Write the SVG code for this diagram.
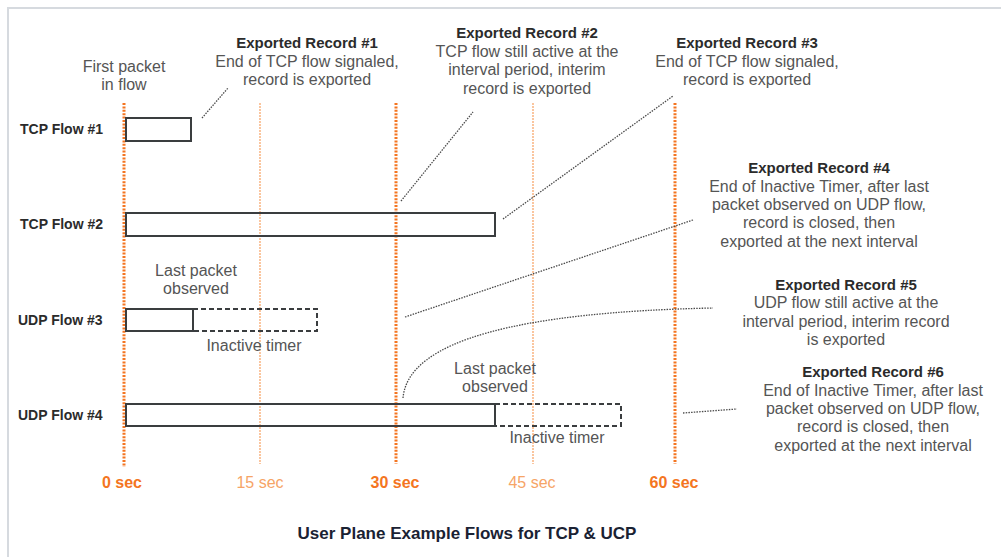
<svg xmlns="http://www.w3.org/2000/svg" width="1001" height="557" viewBox="0 0 1001 557">
  <style>
    .frame { stroke: #d6dadf; stroke-width: 2; fill: none; }
    .tick-major { stroke: #f47521; stroke-width: 3; stroke-dasharray: 2 1.4; fill: none; }
    .tick-minor { stroke: #f7a060; stroke-width: 1.2; stroke-dasharray: 2 1; fill: none; }
    .bar { fill: none; stroke: #3a3d3f; stroke-width: 2; }
    .bar-dash { fill: none; stroke: #3a3d3f; stroke-width: 2; stroke-dasharray: 5 3; }
    .leader { fill: none; stroke: #4a4a4a; stroke-width: 1.3; stroke-dasharray: 1.5 1.2; }
    .flow-label { font-family: "Liberation Sans", Arial, sans-serif; font-weight: bold; font-size: 14px; fill: #2b2b2b; }
    .time-major { font-family: "Liberation Sans", Arial, sans-serif; font-weight: bold; font-size: 16px; fill: #f47521; text-anchor: middle; }
    .time-minor { font-family: "Liberation Sans", Arial, sans-serif; font-size: 16px; fill: #f6a466; text-anchor: middle; }
    .head { font-family: "Liberation Sans", Arial, sans-serif; font-weight: bold; font-size: 15px; fill: #2b2b2b; text-anchor: middle; }
    .note { font-family: "Liberation Sans", Arial, sans-serif; font-size: 16px; fill: #555; text-anchor: middle; }
    .title { font-family: "Liberation Sans", Arial, sans-serif; font-weight: bold; font-size: 17px; fill: #1a2233; text-anchor: middle; }
  </style>

  <rect width="1001" height="557" fill="#ffffff"/>
  <!-- outer frame: top and left edges -->
  <path class="frame" d="M8,557 V8 H1001"/>

  <!-- time grid -->
  <g id="time-grid">
    <line class="tick-major" x1="124" y1="103" x2="124" y2="467"/>
    <line class="tick-minor" x1="260" y1="103" x2="260" y2="464"/>
    <line class="tick-major" x1="396" y1="103" x2="396" y2="464"/>
    <line class="tick-minor" x1="533" y1="103" x2="533" y2="464"/>
    <line class="tick-major" x1="675" y1="103" x2="675" y2="464"/>
    <text class="time-major" x="122" y="488">0 sec</text>
    <text class="time-minor" x="260" y="488">15 sec</text>
    <text class="time-major" x="395" y="488">30 sec</text>
    <text class="time-minor" x="532" y="488">45 sec</text>
    <text class="time-major" x="674" y="488">60 sec</text>
  </g>

  <!-- flows -->
  <g id="tcp-flow-1">
    <text class="flow-label" x="20" y="134">TCP Flow #1</text>
    <rect class="bar" x="126" y="118" width="65" height="23"/>
  </g>
  <g id="tcp-flow-2">
    <text class="flow-label" x="20" y="229">TCP Flow #2</text>
    <rect class="bar" x="126" y="213" width="369" height="23"/>
  </g>
  <g id="udp-flow-3">
    <text class="flow-label" x="18" y="325">UDP Flow #3</text>
    <path class="bar-dash" d="M193,309 H317 V331 H193"/>
    <rect class="bar" x="126" y="309" width="67" height="22"/>
  </g>
  <g id="udp-flow-4">
    <text class="flow-label" x="18" y="420">UDP Flow #4</text>
    <path class="bar-dash" d="M495,404 H621 V426 H495"/>
    <rect class="bar" x="126" y="404" width="369" height="22"/>
  </g>

  <!-- annotations -->
  <g id="first-packet">
    <text class="note" x="124" y="72">First packet</text>
    <text class="note" x="124" y="90">in flow</text>
  </g>
  <g id="udp3-last-packet">
    <text class="note" x="196" y="276">Last packet</text>
    <text class="note" x="196" y="294">observed</text>
  </g>
  <g id="udp3-inactive-timer">
    <text class="note" x="254" y="351">Inactive timer</text>
  </g>
  <g id="udp4-last-packet">
    <text class="note" x="495" y="374">Last packet</text>
    <text class="note" x="495" y="392">observed</text>
  </g>
  <g id="udp4-inactive-timer">
    <text class="note" x="557" y="443">Inactive timer</text>
  </g>

  <g id="record-1">
    <text class="head" x="307" y="48">Exported Record #1</text>
    <text class="note" x="307" y="67">End of TCP flow signaled,</text>
    <text class="note" x="307" y="85">record is exported</text>
  </g>
  <g id="record-2">
    <text class="head" x="527" y="38">Exported Record #2</text>
    <text class="note" x="527" y="57">TCP flow still active at the</text>
    <text class="note" x="527" y="75">interval period, interim</text>
    <text class="note" x="527" y="94">record is exported</text>
  </g>
  <g id="record-3">
    <text class="head" x="747" y="48">Exported Record #3</text>
    <text class="note" x="747" y="67">End of TCP flow signaled,</text>
    <text class="note" x="747" y="85">record is exported</text>
  </g>
  <g id="record-4">
    <text class="head" x="819" y="173">Exported Record #4</text>
    <text class="note" x="819" y="192">End of Inactive Timer, after last</text>
    <text class="note" x="819" y="210">packet observed on UDP flow,</text>
    <text class="note" x="819" y="228">record is closed, then</text>
    <text class="note" x="819" y="247">exported at the next interval</text>
  </g>
  <g id="record-5">
    <text class="head" x="846" y="290">Exported Record #5</text>
    <text class="note" x="846" y="308">UDP flow still active at the</text>
    <text class="note" x="846" y="327">interval period, interim record</text>
    <text class="note" x="846" y="345">is exported</text>
  </g>
  <g id="record-6">
    <text class="head" x="873" y="377">Exported Record #6</text>
    <text class="note" x="873" y="396">End of Inactive Timer, after last</text>
    <text class="note" x="873" y="414">packet observed on UDP flow,</text>
    <text class="note" x="873" y="432">record is closed, then</text>
    <text class="note" x="873" y="451">exported at the next interval</text>
  </g>

  <!-- leader lines -->
  <g id="connectors">
    <line class="leader" x1="202" y1="118" x2="228" y2="88"/>
    <line class="leader" x1="401" y1="201" x2="473" y2="112"/>
    <line class="leader" x1="503" y1="219" x2="673" y2="96"/>
    <line class="leader" x1="405" y1="317" x2="693" y2="220"/>
    <path class="leader" d="M403,398 C408,340 520,312 713,308"/>
    <line class="leader" x1="683" y1="413" x2="737" y2="409"/>
  </g>

  <text class="title" x="467" y="539">User Plane Example Flows for TCP &amp; UCP</text>
</svg>
